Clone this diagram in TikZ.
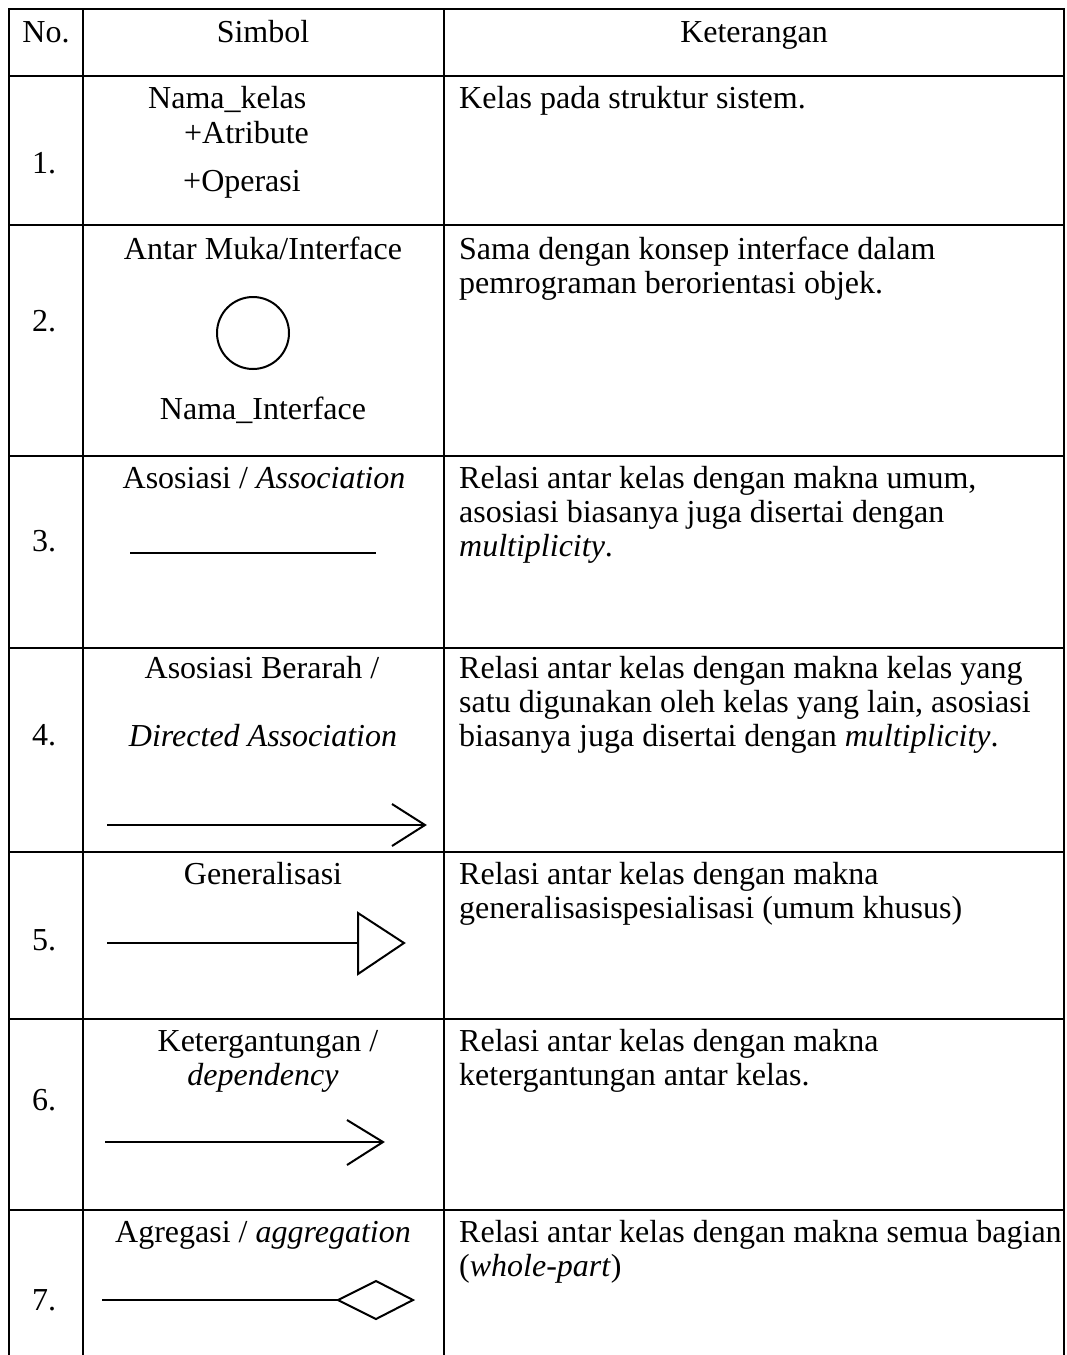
\documentclass[tikz,border=0pt]{standalone}
\usepackage{fontspec}
\setmainfont{Liberation Serif}
\begin{document}
\begin{tikzpicture}[x=1pt,y=-1pt,
  grid/.style={line width=2.6pt,line cap=rect},
  sym/.style={line width=2pt,line join=miter},
  txt/.style={inner sep=0pt,anchor=base west,font=\fontsize{32}{34}\selectfont},
  ctr/.style={inner sep=0pt,anchor=base,font=\fontsize{32}{34}\selectfont}]
\useasboundingbox (0,0) rectangle (1067,1355);
\fill[white] (0,0) rectangle (1067,1355);

% table rules (the table runs on past the bottom edge)
\draw[grid] (9,1355) -- (9,9) -- (1064,9) -- (1064,1355);
\draw[grid] (83,9) -- (83,1355);
\draw[grid] (444,9) -- (444,1355);
\foreach \y in {76,225,456,648,852,1019,1210}
  \draw[grid] (9,\y) -- (1064,\y);

% header
\node[ctr] (hno)  at (46,42)  {No.};
\node[ctr] (hsym) at (263,42) {Simbol};
\node[ctr] (hket) at (754,42) {Keterangan};

% row numbers
\node[ctr] (n1) at (44,173)  {1.};
\node[ctr] (n2) at (44,331)  {2.};
\node[ctr] (n3) at (44,551)  {3.};
\node[ctr] (n4) at (44,745)  {4.};
\node[ctr] (n5) at (44,950)  {5.};
\node[ctr] (n6) at (44,1110) {6.};
\node[ctr] (n7) at (44,1310) {7.};

% 1. class
\node[txt] (cls)  at (148,108) {Nama\_kelas};
\node[txt] (attr) at (184,143) {+Atribute};
\node[txt] (ops)  at (183,191) {+Operasi};
\node[txt] (k1a)  at (459,108) {Kelas pada struktur sistem.};

% 2. interface
\node[ctr] (ifc)  at (263,259) {Antar Muka/Interface};
\node[circle,draw,line width=2pt,minimum size=72pt,inner sep=0pt] (ball) at (253,333) {};
\node[ctr] (ifn)  at (263,419) {Nama\_Interface};
\node[txt] (k2a)  at (459,259) {Sama dengan konsep interface dalam};
\node[txt] (k2b)  at (459,293) {pemrograman berorientasi objek.};

% 3. association
\node[ctr] (asc)  at (264,488) {Asosiasi / \textit{Association}};
\coordinate (a3s) at (130,553);
\coordinate (a3e) at (376,553);
\draw[sym] (a3s) -- (a3e);
\node[txt] (k3a)  at (459,488) {Relasi antar kelas dengan makna umum,};
\node[txt] (k3b)  at (459,522) {asosiasi biasanya juga disertai dengan};
\node[txt] (k3c)  at (459,556) {\textit{multiplicity}.};

% 4. directed association
\node[ctr] (dasc) at (262,678) {Asosiasi Berarah /};
\node[ctr] (dasi) at (263,746) {\textit{Directed Association}};
\coordinate (a4s) at (107,825);
\coordinate (a4e) at (425,825);
\coordinate (a4u) at (392,804);
\coordinate (a4d) at (392,846);
\draw[sym] (a4s) -- (a4e);
\draw[sym] (a4u) -- (a4e) -- (a4d);
\node[txt] (k4a)  at (459,678) {Relasi antar kelas dengan makna kelas yang};
\node[txt] (k4b)  at (459,712) {satu digunakan oleh kelas yang lain, asosiasi};
\node[txt] (k4c)  at (459,746) {biasanya juga disertai dengan \textit{multiplicity}.};

% 5. generalization
\node[ctr] (gen)  at (263,884) {Generalisasi};
\coordinate (a5s) at (107,943);
\coordinate (a5b) at (358,943);
\coordinate (a5u) at (358,913);
\coordinate (a5d) at (358,974);
\coordinate (a5t) at (404,943);
\draw[sym] (a5s) -- (a5b);
\draw[sym] (a5u) -- (a5t) -- (a5d) -- cycle;
\node[txt] (k5a)  at (459,884) {Relasi antar kelas dengan makna};
\node[txt] (k5b)  at (459,918) {generalisasispesialisasi (umum khusus)};

% 6. dependency
\node[ctr] (dep)  at (268,1051) {Ketergantungan /};
\node[ctr] (depi) at (263,1085) {\textit{dependency}};
\coordinate (a6s) at (105,1142);
\coordinate (a6e) at (383,1142);
\coordinate (a6u) at (347,1120);
\coordinate (a6d) at (347,1165);
\draw[sym] (a6s) -- (a6e);
\draw[sym] (a6u) -- (a6e) -- (a6d);
\node[txt] (k6a)  at (459,1051) {Relasi antar kelas dengan makna};
\node[txt] (k6b)  at (459,1085) {ketergantungan antar kelas.};

% 7. aggregation
\node[ctr] (agg)  at (263,1242) {Agregasi / \textit{aggregation}};
\coordinate (a7s) at (102,1300);
\coordinate (a7w) at (338,1300);
\coordinate (a7n) at (376,1281);
\coordinate (a7e) at (413,1300);
\coordinate (a7o) at (376,1319);
\draw[sym] (a7s) -- (a7w);
\draw[sym] (a7w) -- (a7n) -- (a7e) -- (a7o) -- cycle;
\node[txt] (k7a)  at (459,1242) {Relasi antar kelas dengan makna semua bagian};
\node[txt] (k7b)  at (459,1276) {(\textit{whole-part})};
\end{tikzpicture}
\end{document}
